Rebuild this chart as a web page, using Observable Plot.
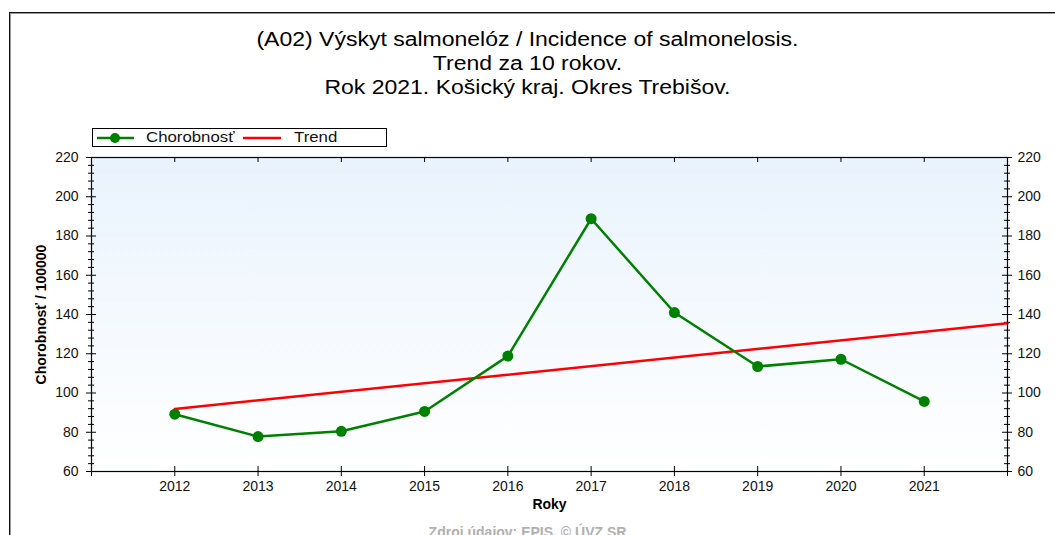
<!DOCTYPE html>
<html>
<head>
<meta charset="utf-8">
<script src="https://cdn.jsdelivr.net/npm/d3@7"></script>
<script src="https://cdn.jsdelivr.net/npm/@observablehq/plot@0.6"></script>
<style>
  html, body { margin: 0; padding: 0; background: #fff; overflow: hidden; }
  body { width: 1055px; height: 535px; position: relative; font-family: "Liberation Sans", Arial, sans-serif; }
  #frame { position: absolute; left: 9px; top: 12px; width: 1100px; height: 600px; border-top: 1px solid #111; border-left: 1px solid #111; box-shadow: inset 1px 1px 0 #999; }
  #title { position: absolute; left: 0; top: 27px; width: 1055px; text-align: center; font-size: 20px; line-height: 24px; color: #000; transform: scaleX(1.15); transform-origin: 528px 0; }
  #legend { position: absolute; left: 92px; top: 128px; width: 293px; height: 17px; border: 1px solid #000; background: #fff; font-size: 14px; }
  #legend svg { position: absolute; left: 0; top: 0; }
  #legend span { position: absolute; top: 0px; line-height: 17px; color: #111; transform: scaleX(1.2); transform-origin: 0 0; }
  #chart { position: absolute; left: 0; top: 140px; }
  #caption { position: absolute; left: 0; top: 524px; width: 1055px; text-align: center; font-size: 14px; font-weight: bold; color: #b0b0b0; line-height: 16px; }
</style>
</head>
<body>
<div id="frame"></div>
<div id="title"></div>
<div id="legend"></div>
<div id="chart"></div>
<div id="caption"></div>
<script>
// ---- data ----
const titleLines = [
  "(A02) Výskyt salmonelóz / Incidence of salmonelosis.",
  "Trend za 10 rokov.",
  "Rok 2021. Košický kraj. Okres Trebišov."
];
const years = [2012, 2013, 2014, 2015, 2016, 2017, 2018, 2019, 2020, 2021];
const morbidity = [89.2, 77.8, 80.5, 90.6, 118.8, 188.8, 141.0, 113.5, 117.2, 95.7];
const trendYears = [2012, 2022];
const trendValues = [91.9, 135.5];
const yTicks = [60, 80, 100, 120, 140, 160, 180, 200, 220];
const yMinorTicks = d3.range(60, 221, 4).filter(v => !yTicks.includes(v));
const xTickYears = [2011, 2012, 2013, 2014, 2015, 2016, 2017, 2018, 2019, 2020, 2021, 2022];
const seriesName = "Chorobnosť";
const trendName = "Trend";
const yLabel = "Chorobnosť / 100000";
const xLabel = "Roky";
const captionText = "Zdroj údajov: EPIS, © ÚVZ SR";

// ---- layout ----
const W = 1055, H = 376;
const mL = 91, mR = 48, mT = 17, mB = 45;
const pw = W - mL - mR, ph = H - mT - mB;
const green = "#008000", red = "#ff0000";

document.getElementById("title").innerHTML = titleLines.map(t => `<div>${t}</div>`).join("");
document.getElementById("caption").textContent = captionText;
document.getElementById("legend").innerHTML = `
  <svg width="293" height="17">
    <line x1="4" x2="41" y1="9" y2="9" stroke="${green}" stroke-width="2.5"/>
    <circle cx="22" cy="9" r="5" fill="${green}"/>
    <line x1="150" x2="188" y1="9" y2="9" stroke="${red}" stroke-width="2.5"/>
  </svg>
  <span style="left:53px">${seriesName}</span>
  <span style="left:201px">${trendName}</span>`;

const data = years.map((y, i) => ({year: y, value: morbidity[i]}));
const trend = trendYears.map((y, i) => ({year: y, value: trendValues[i]}));

const chart = Plot.plot({
  width: W, height: H,
  marginLeft: mL, marginRight: mR, marginTop: mT, marginBottom: mB,
  x: {domain: [2011, 2022]},
  y: {domain: [60, 220]},
  style: {fontFamily: "'Liberation Sans', Arial, sans-serif", fontSize: "14px", background: "transparent", color: "#111", overflow: "visible"},
  marks: [
    Plot.frame({fill: "url(#bgGrad)", stroke: null}),
    Plot.axisY(yTicks, {anchor: "left", tickSize: 0, tickPadding: 13, label: null, fontSize: 14}),
    Plot.axisY(yTicks, {anchor: "right", tickSize: 0, tickPadding: 10, label: null, fontSize: 14}),
    Plot.axisX(years, {anchor: "bottom", tickSize: 0, tickPadding: 10, label: null, tickFormat: d => String(d), fontSize: 14}),
    // crossing ticks, left
    Plot.tickY(yTicks, {y: d => d, insetLeft: -5, insetRight: pw - 5, stroke: "#000"}),
    Plot.tickY(yMinorTicks, {y: d => d, insetLeft: -3, insetRight: pw - 3, stroke: "#000"}),
    // crossing ticks, right
    Plot.tickY(yTicks, {y: d => d, insetLeft: pw - 5, insetRight: -5, stroke: "#000"}),
    Plot.tickY(yMinorTicks, {y: d => d, insetLeft: pw - 3, insetRight: -3, stroke: "#000"}),
    // bottom ticks crossing, top ticks inward
    Plot.tickX(xTickYears, {x: d => d, insetTop: ph - 5, insetBottom: -5, stroke: "#000"}),
    Plot.tickX(xTickYears, {x: d => d, insetTop: 0, insetBottom: ph - 5, stroke: "#000"}),
    // axis titles
    Plot.text([yLabel], {frameAnchor: "left", textAnchor: "middle", dx: -50, rotate: -90, fontWeight: "bold", fontSize: 14, fill: "#000"}),
    Plot.text([xLabel], {frameAnchor: "bottom", textAnchor: "middle", dy: 37, fontWeight: "bold", fontSize: 14, fill: "#000"}),
    // data
    Plot.line(trend, {x: "year", y: "value", stroke: red, strokeWidth: 2.5}),
    Plot.line(data, {x: "year", y: "value", stroke: green, strokeWidth: 2.5}),
    Plot.dot(data, {x: "year", y: "value", r: 5.5, fill: green, stroke: null}),
    Plot.frame({stroke: "#000", strokeWidth: 1.2})
  ]
});

const svg = d3.select(chart);
const defs = svg.insert("defs", ":first-child");
const grad = defs.append("linearGradient").attr("id", "bgGrad").attr("x1", 0).attr("y1", 0).attr("x2", 0).attr("y2", 1);
grad.append("stop").attr("offset", "0%").attr("stop-color", "#e9f3fd");
grad.append("stop").attr("offset", "100%").attr("stop-color", "#ffffff");

document.getElementById("chart").appendChild(chart);
</script>
</body>
</html>
